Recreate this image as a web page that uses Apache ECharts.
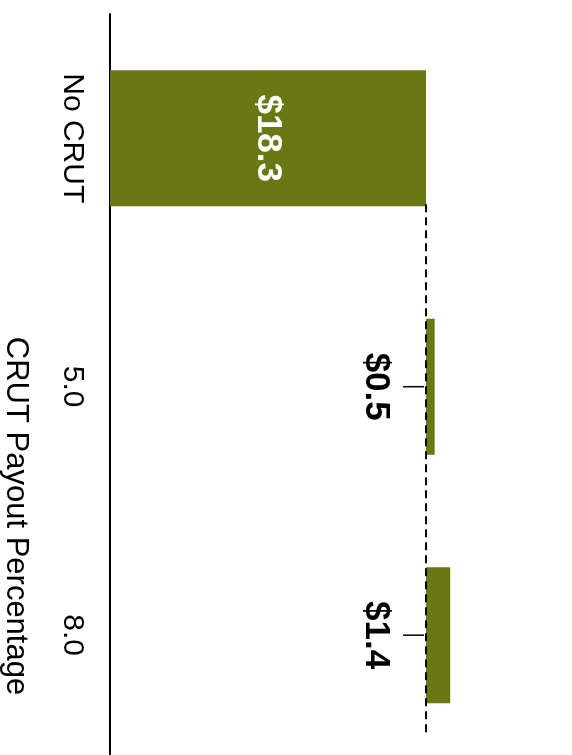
<!DOCTYPE html>
<html><head><meta charset="utf-8">
<script src="https://cdn.jsdelivr.net/npm/echarts@6/dist/echarts.min.js"></script>
<style>html,body{margin:0;padding:0;background:#fff;width:572px;height:755px;overflow:hidden}#c{width:572px;height:775px}</style>
</head><body><div id="c"></div>
<script>
const categories = ['No CRUT', '5.0', '8.0'];
const baseValues = [0, 18.3, 18.3];
const changeValues = [18.3, 0.5, 1.4];
const labelTexts = ['$18.3', '$0.5', '$1.4'];
const axisTitle = 'CRUT Payout Percentage';
const connectorValue = 18.3;

const FONT = "'Liberation Sans', Arial, Helvetica, sans-serif";
const OLIVE = '#6a7814';
const BAR_W = 136;

const chart = echarts.init(document.getElementById('c'), null, {renderer: 'canvas'});

const changeData = changeValues.map((v, i) => {
  const item = {value: v};
  if (i === 0) {
    item.label = {show: true, position: 'inside', rotate: -90, align: 'center', verticalAlign: 'middle',
      color: '#fff', fontSize: 35, fontWeight: 'bold', fontFamily: FONT, formatter: labelTexts[i]};
  } else {
    item.label = {show: true, position: [-50, '50%'], rotate: -90, align: 'center', verticalAlign: 'middle',
      color: '#000', fontSize: 35, fontWeight: 'bold', fontFamily: FONT, formatter: labelTexts[i]};
  }
  return item;
});

const leaderData = [];
baseValues.forEach((b, i) => { if (b > 0) leaderData.push([b, i]); });

const option = {
  animation: false,
  backgroundColor: '#fff',
  grid: {left: 110, top: 14, width: 345.4, height: 745.4, containLabel: false},
  xAxis: {type: 'value', min: 0, max: 20, show: false, splitLine: {show: false}},
  yAxis: {
    type: 'category', data: categories, inverse: true,
    axisLine: {show: true, lineStyle: {color: '#000', width: 2}},
    axisTick: {show: false},
    axisLabel: {rotate: -90, align: 'center', verticalAlign: 'middle', margin: 38,
      color: '#000', fontSize: 30, fontFamily: FONT}
  },
  graphic: [{
    type: 'text', x: 16, y: 516, rotation: -Math.PI / 2,
    style: {text: axisTitle, fill: '#000', font: '31px ' + FONT, align: 'center', verticalAlign: 'middle'}
  }],
  series: [
    {type: 'bar', stack: 'w', data: baseValues, barWidth: BAR_W, itemStyle: {color: 'transparent'}, silent: true, z: 1},
    {type: 'bar', stack: 'w', data: changeData, barWidth: BAR_W, itemStyle: {color: OLIVE}, z: 2},
    {
      type: 'custom', coordinateSystem: 'cartesian2d', z: 5, silent: true,
      data: [[connectorValue, 0, categories.length - 1]],
      encode: {x: 0, y: 1},
      renderItem: function (params, api) {
        const p0 = api.coord([api.value(0), api.value(1)]);
        const p2 = api.coord([api.value(0), api.value(2)]);
        return {type: 'line', shape: {x1: p0[0], y1: p0[1] + BAR_W / 2 - 2, x2: p2[0], y2: p2[1] + BAR_W / 2 + 30},
          style: {stroke: '#000', lineWidth: 2, lineDash: [8, 5]}};
      }
    },
    {
      type: 'custom', coordinateSystem: 'cartesian2d', z: 5, silent: true,
      data: leaderData,
      encode: {x: 0, y: 1},
      renderItem: function (params, api) {
        const p = api.coord([api.value(0), api.value(1)]);
        return {type: 'line', shape: {x1: p[0] - 23, y1: p[1], x2: p[0] - 2, y2: p[1]},
          style: {stroke: '#000', lineWidth: 1.5}};
      }
    }
  ]
};
chart.setOption(option);
</script></body></html>
